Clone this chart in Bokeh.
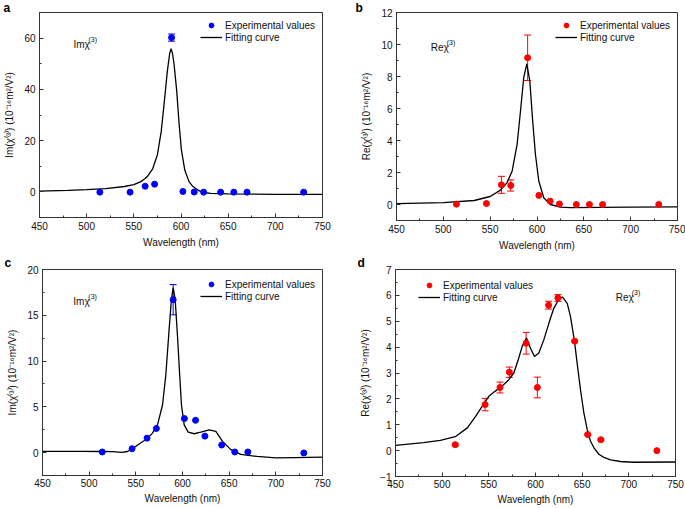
from bokeh.plotting import figure
from bokeh.models import (ColumnDataSource, Whisker, TeeHead, Label, Legend, LegendItem,
                          SingleIntervalTicker, Range1d)
from bokeh.layouts import column, row
from bokeh.embed import file_html
from bokeh.resources import INLINE

# ---------------- data ----------------
wavelength = [514, 546, 562, 572, 590, 602, 614, 624, 642, 656, 670, 730]

a_exp = [-0.1, -0.1, 2.2, 3.0, 60.2, 0.15, -0.05, -0.1, -0.1, -0.1, -0.1, -0.1]
a_err = [0, 0, 0, 0, 1.4, 0, 0, 0, 0, 0, 0, 0]
a_fit_x = [450, 480, 500, 520, 540, 550, 557, 562, 565, 570, 575, 579, 582, 585.5, 588, 589.5,
           591, 592.6, 595.4, 598, 600.4, 604, 608.5, 612, 615.6, 620, 624.4, 631.5, 650, 700, 750]
a_fit_y = [0.3, 0.6, 0.9, 1.3, 2.1, 2.8, 3.9, 5.2, 6.3, 9.0, 14.5, 23.5, 34.0, 47.0, 54.0, 55.9,
           54.0, 50.0, 39.6, 26.5, 16.5, 8.5, 4.0, 2.3, 1.3, 0.3, -0.25, -0.6, -0.8, -0.95, -1.0]

b_exp = [0.02, 0.06, 1.23, 1.19, 9.17, 0.57, 0.21, 0.03, 0.0, 0.0, 0.0, 0.0]
b_err = [0, 0, 0.53, 0.35, 1.42, 0, 0, 0, 0, 0, 0, 0]
b_fit_x = [450, 500, 533, 550, 561, 568, 573.5, 578.8, 582.4, 585.9, 589.1, 592.3, 595.1, 598.3,
           601.9, 607.2, 614.3, 624.9, 636, 700, 750]
b_fit_y = [0.06, 0.12, 0.25, 0.5, 0.9, 1.36, 2.1, 3.77, 5.86, 7.95, 8.79, 7.74, 5.44, 3.14,
           1.47, 0.42, 0.0, -0.17, -0.2, -0.17, -0.15]

c_exp = [0.07, 0.43, 1.58, 2.63, 16.7, 3.72, 3.53, 1.80, 0.83, 0.07, 0.07, -0.04]
c_err = [0, 0, 0, 0, 1.65, 0, 0, 0, 0, 0, 0, 0]
c_fit_x = [450, 491, 514, 525, 535, 541, 546.4, 553.5, 562.1, 567.8, 573.2, 578.6, 582.1, 585.7,
           588.2, 590, 592.1, 594.6, 596.8, 598.9, 601.8, 606.1, 612.5, 619.6, 628.6, 635.7,
           642.9, 651.8, 662.5, 680, 700, 720, 750]
c_fit_y = [0.14, 0.14, 0.12, 0.1, 0.02, 0.12, 0.43, 0.94, 1.52, 2.13, 3.03, 5.2, 8.45, 13.5,
           16.8, 18.0, 16.8, 12.8, 8.8, 5.2, 3.03, 2.24, 2.06, 2.24, 2.49, 2.31,
           1.23, 0.33, -0.2, -0.42, -0.58, -0.54, -0.5]

d_exp = [0.23, 1.78, 2.44, 3.03, 4.15, 2.44, 5.62, 5.9, 4.23, 0.62, 0.42, 0.0]
d_err = [0.05, 0.24, 0.21, 0.2, 0.42, 0.4, 0.15, 0.13, 0.03, 0.03, 0.03, 0.0]
d_fit_x = [450, 480, 498, 514, 527, 536, 543, 550, 557, 564, 571.4, 576.8, 582.1, 585.7, 590.3,
           594.6, 598.9, 603.6, 608.9, 614.3, 619.6, 625, 629, 634, 637.5, 641.8, 644.6, 648.2,
           651.8, 655.4, 658.9, 662.5, 667.9, 673.2, 680.4, 691, 705, 750]
d_fit_y = [0.2, 0.31, 0.40, 0.54, 0.88, 1.33, 1.72, 2.1, 2.3, 2.49, 2.74, 3.0, 3.58, 4.03, 4.35,
           3.96, 3.64, 3.77, 4.28, 4.92, 5.5, 5.85, 5.93, 5.69, 5.18, 4.22, 3.38, 2.36,
           1.46, 0.82, 0.37, 0.12, -0.14, -0.26, -0.36, -0.42, -0.45, -0.44]

x_range = (450, 750)
x_label = "Wavelength (nm)"
im_label = "Im(χ⁽³⁾) (10⁻¹⁶m²/V²)"
re_label = "Re(χ⁽³⁾) (10⁻¹⁶m²/V²)"
legend_labels = ["Experimental values", "Fitting curve"]

FONT = "Liberation Sans"
AX = "#333333"
TXT = "#111111"


def panel(exp, err, fx, fy, color, ylabel, yr, yint, fw, fh, bl, br, bt, bb,
          leg_loc, ann_text, ann_xy, sup_dx, letter, letter_off, letter_valign, xstand):
    p = figure(frame_width=fw, frame_height=fh, min_border_left=bl, min_border_right=br,
               min_border_top=bt, min_border_bottom=bb, output_backend="svg",
               toolbar_location=None, x_range=Range1d(*x_range), y_range=Range1d(*yr))
    p.grid.visible = False
    p.outline_line_color = AX
    p.outline_line_width = 1
    p.xaxis.ticker = SingleIntervalTicker(interval=50, num_minor_ticks=2)
    p.yaxis.ticker = SingleIntervalTicker(interval=yint, num_minor_ticks=2)
    for ax in (p.xaxis[0], p.yaxis[0]):
        ax.axis_line_color = AX
        ax.major_tick_line_color = AX
        ax.minor_tick_line_color = AX
        ax.major_tick_in = 4
        ax.major_tick_out = 0
        ax.minor_tick_in = 2
        ax.minor_tick_out = 0
        ax.major_label_text_font = FONT
        ax.major_label_text_font_size = "10px"
        ax.major_label_text_color = TXT
        ax.major_label_standoff = 4
        ax.axis_label_text_font = FONT
        ax.axis_label_text_font_size = "10px"
        ax.axis_label_text_font_style = "normal"
        ax.axis_label_text_color = TXT
    p.xaxis.major_label_standoff = xstand[0]
    p.xaxis.axis_label = x_label
    p.xaxis.axis_label_standoff = xstand[1]
    p.yaxis.axis_label = ylabel
    p.yaxis.axis_label_standoff = 6

    # panel letter as a title placed left of the frame
    p.title.text = letter
    p.title.text_font = FONT
    p.title.text_font_size = "12px"
    p.title.text_font_style = "bold"
    p.title.text_color = "black"
    p.title.align = "left"
    p.title.offset = letter_off
    p.title.standoff = -5
    p.title.vertical_align = letter_valign
    p.title.text_line_height = 0.8

    line_r = p.line(fx, fy, line_color="black", line_width=1.3)

    idx = [i for i, e in enumerate(err) if e > 0]
    wsrc = ColumnDataSource(dict(
        x=[wavelength[i] for i in idx],
        upper=[exp[i] + err[i] for i in idx],
        lower=[exp[i] - err[i] for i in idx]))
    w = Whisker(source=wsrc, base="x", upper="upper", lower="lower",
                line_color=color, line_width=1,
                upper_head=TeeHead(size=7, line_color=color, line_width=1),
                lower_head=TeeHead(size=7, line_color=color, line_width=1))
    p.add_layout(w)

    sc_r = p.scatter(wavelength, exp, size=6, fill_color=color, line_color=color)

    leg = Legend(items=[LegendItem(label=legend_labels[0], renderers=[sc_r]),
                        LegendItem(label=legend_labels[1], renderers=[line_r])],
                 location=leg_loc, padding=0, margin=0, spacing=0,
                 glyph_width=22, glyph_height=12, label_height=12, label_standoff=3,
                 label_text_font=FONT, label_text_font_size="10px",
                 label_text_color=TXT,
                 border_line_alpha=0, background_fill_alpha=0)
    p.add_layout(leg)

    p.add_layout(Label(x=ann_xy[0], y=ann_xy[1], text=ann_text, text_font=FONT,
                       text_font_size="10px", text_color=TXT,
                       text_baseline="middle"))
    p.add_layout(Label(x=ann_xy[0], y=ann_xy[1], x_offset=sup_dx, y_offset=5, text="(3)",
                       text_font=FONT, text_font_size="7px", text_color=TXT,
                       text_baseline="middle"))
    return p


pa = panel(a_exp, a_err, a_fit_x, a_fit_y, "#0000ff", im_label, (-10, 70), 20,
           283, 205, 39, 18, 12, 37, (161, 174), "Imχ", (486, 57.5), 15, "a", -36, "bottom",
           (4, 4))
pb = panel(b_exp, b_err, b_fit_x, b_fit_y, "#ff0000", re_label, (-1, 12), 2,
           281, 208, 56, 8, 12, 34, (159, 177), "Reχ", (486.5, 9.8), 16, "b", -41, "bottom",
           (4, 4))
pc = panel(c_exp, c_err, c_fit_x, c_fit_y, "#0000ff", im_label, (-2.5, 20), 5,
           280, 206, 42, 18, 15, 33, (158, 173), "Imχ", (483, 16.5), 15, "c", -38, "top",
           (3, 3))
pd = panel(d_exp, d_err, d_fit_x, d_fit_y, "#ff0000", re_label, (-1, 7), 1,
           280, 207, 55, 10, 14, 33, (23, 173), "Reχ", (686, 5.9), 16, "d", -38, "top",
           (3, 3))

layout = column(row(pa, pb, spacing=0), row(pc, pd, spacing=0), spacing=0)

open("out.html", "w").write(file_html(layout, INLINE))
